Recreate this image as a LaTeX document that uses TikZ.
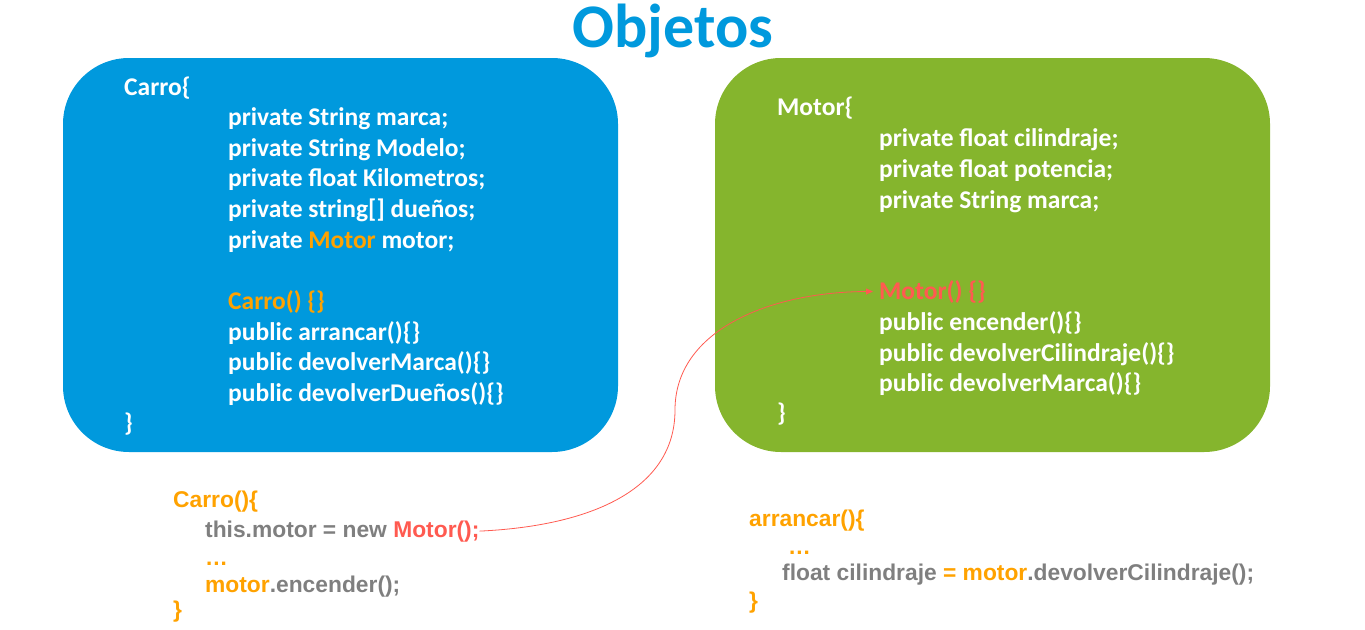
\documentclass[tikz,border=0pt]{standalone}
\usepackage{fontspec}
\setmainfont{Carlito}
\newfontfamily\arialfont{Liberation Sans}
\usetikzlibrary{arrows.meta}
\definecolor{blueC}{HTML}{0099DD}
\definecolor{greenC}{HTML}{85B52D}
\definecolor{orangeC}{HTML}{FFA200}
\definecolor{redC}{HTML}{FF5A50}
\definecolor{grayC}{HTML}{7F7F7F}
\tikzset{
  panel/.style={fill=#1, draw=none, rounded corners=66pt, minimum width=555pt, minimum height=394pt, inner sep=0},
  boxline/.style={anchor=base west, inner sep=0, text=white, font=\fontsize{25.5}{26}\selectfont\bfseries},
  codeline/.style={anchor=base west, inner sep=0, text=grayC, font=\arialfont\fontsize{22.8}{23}\selectfont\bfseries},
  linkarrow/.style={draw=redC, line width=0.8pt, -{Triangle[length=7pt,width=6pt]}}
}
\begin{document}
\begin{tikzpicture}[x=1pt,y=-1pt]
\useasboundingbox (0,0) rectangle (1365,629);
% title
\node[anchor=base, inner sep=0, text=blueC, font=\fontsize{62}{62}\selectfont\bfseries] (title) at (673,47) {Objetos};
% panels
\node[panel=blueC] (carro) at (340.5,255) {};
\node[panel=greenC] (motor) at (992.5,255) {};
% Carro class text
\node[boxline] (c0) at (124,95) {Carro\{};
\node[boxline] (c1) at (228,125) {private String marca;};
\node[boxline] (c2) at (228,156) {private String Modelo;};
\node[boxline] (c3) at (228,186) {private float Kilometros;};
\node[boxline] (c4) at (228,217) {private string[] dueños;};
\node[boxline] (c5) at (228,248) {private \textcolor{orangeC}{Motor} motor;};
\node[boxline, text=orangeC] (c6) at (228,309) {Carro() \{\}};
\node[boxline] (c7) at (228,340) {public arrancar()\{\}};
\node[boxline] (c8) at (228,370) {public devolverMarca()\{\}};
\node[boxline] (c9) at (228,401) {public devolverDueños()\{\}};
\node[boxline] (c10) at (124,431) {\}};
% Motor class text
\node[boxline] (m0) at (777,115) {Motor\{};
\node[boxline] (m1) at (879,146) {private float cilindraje;};
\node[boxline] (m2) at (879,177) {private float potencia;};
\node[boxline] (m3) at (879,208) {private String marca;};
\node[boxline, text=redC] (m4) at (879,299) {Motor() \{\}};
\node[boxline] (m5) at (879,330) {public encender()\{\}};
\node[boxline] (m6) at (879,361) {public devolverCilindraje()\{\}};
\node[boxline] (m7) at (879,391) {public devolverMarca()\{\}};
\node[boxline] (m8) at (777,421) {\}};
% code below Carro
\node[codeline, text=orangeC] (k0) at (173,507) {Carro()\{};
\node[codeline] (k1) at (205,537) {this.motor = new \textcolor{redC}{Motor();}};
\node[codeline, text=orangeC] (k2) at (205,565) {\dots};
\node[codeline] (k3) at (205,592) {\textcolor{orangeC}{motor}.encender();};
\node[codeline, text=orangeC] (k4) at (173,617) {\}};
% code below Motor
\node[codeline, text=orangeC] (a0) at (749,526) {arrancar()\{};
\node[codeline, text=orangeC] (a1) at (788,554) {\dots};
\node[codeline] (a2) at (782,580) {float cilindraje \textcolor{orangeC}{= motor}.devolverCilindraje();};
\node[codeline, text=orangeC] (a3) at (749,608) {\}};
% connector
\coordinate (bend) at (675,410);
\draw[linkarrow] (k1.east) .. controls (590,526) and (675,490) .. (bend)
  .. controls (675,330) and (770,292) .. ([xshift=-6pt]m4.west);
\end{tikzpicture}
\end{document}
